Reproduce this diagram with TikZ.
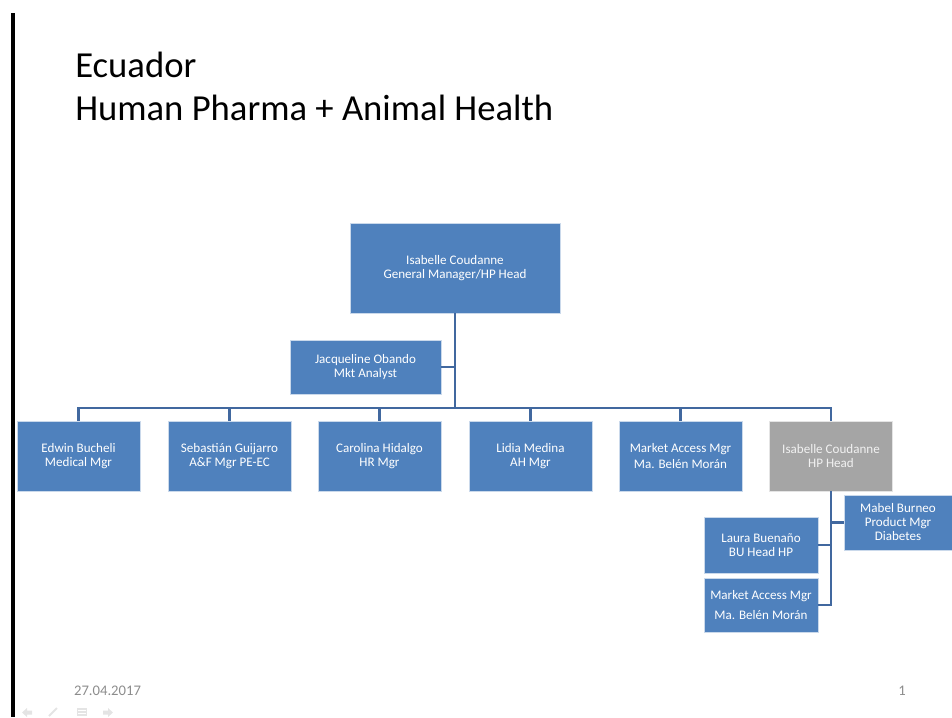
\documentclass[tikz,border=0pt]{standalone}
\usepackage{fontspec}
\setmainfont{Carlito}
\usetikzlibrary{positioning}

\definecolor{boxblue}{HTML}{4F81BD}
\definecolor{boxgray}{HTML}{A5A5A5}
\definecolor{linkblue}{HTML}{41689F}
\definecolor{footgray}{HTML}{8C8C8C}
\definecolor{navgray}{HTML}{E4E4E4}

\tikzset{
    unit/.style={fill=boxblue, draw=white!70!boxblue, line width=0.4pt, text=white,
        align=center, inner sep=1pt, font=\fontsize{9.8}{10.5}\selectfont},
    link/.style={draw=linkblue, line width=1.6pt},
}

\begin{document}
\begin{tikzpicture}[x=0.75pt,y=-0.75pt]
        \useasboundingbox (0,0) rectangle (952,717);
        \fill[black] (11,13) rectangle (14.5,717);

        % title
        \node[anchor=base west, inner sep=0pt, font=\fontsize{27.5}{32}\selectfont] (title1) at (75,78) {Ecuador};
        \node[anchor=base west, inner sep=0pt, font=\fontsize{27.5}{32}\selectfont] (title2) at (75,120) {Human Pharma + Animal Health};

        % head and assistant
        \node[unit, minimum width=157.5pt, minimum height=67.5pt] (top) at (455,268)
            {Isabelle Coudanne\\General Manager/HP Head};
        \node[unit, minimum width=113pt, minimum height=40.5pt] (jacq) at (365.5,367)
            {Jacqueline Obando\\Mkt Analyst};
        \coordinate (bus) at (455,408);

        % first row
        \foreach \x/\name/\label in {78.5/edwin/{Edwin Bucheli\\Medical Mgr},
                229.5/sebas/{Sebastián Guijarro\\A\&F Mgr PE-EC},
                379.5/carol/{Carolina Hidalgo\\HR Mgr},
                530.5/lidia/{Lidia Medina\\AH Mgr},
                680.5/access/{Market Access Mgr\\[2pt]Ma. Belén Morán}} {
            \node[unit, minimum width=92pt, minimum height=52.5pt] (\name) at (\x,456) {\label};
        }
        \node[unit, fill=boxgray, draw=white!70!boxgray, text=white!85!boxgray, minimum width=92pt, minimum height=52.5pt] (hphead) at (831,456)
            {Isabelle Coudanne\\HP Head};

        % HP team
        \node[unit, minimum width=81pt, minimum height=41pt] (mabel) at (898,522.5)
            {Mabel Burneo\\Product Mgr\\Diabetes};
        \node[unit, minimum width=85.5pt, minimum height=42pt] (laura) at (761,545)
            {Laura Buenaño\\BU Head HP};
        \node[unit, minimum width=85.5pt, minimum height=40.5pt] (access2) at (761,605)
            {Market Access Mgr\\[4pt]Ma. Belén Morán};

        % connectors
        \draw[link] (top.south) -- (bus);
        \draw[link] (jacq.east) -- (jacq.east -| top.south);
        \foreach \name in {edwin,sebas,carol,lidia,access,hphead} {
            \draw[link] (bus) -| (\name.north);
        }
        \foreach \name in {mabel,laura,access2} {
            \draw[link] (hphead.south) |- (\name);
        }

        % footer
        \node[text=footgray, font=\fontsize{11}{13}\selectfont] (date) at (107.5,691) {27.04.2017};
        \node[text=footgray, font=\fontsize{11}{13}\selectfont] (page) at (902,691) {1};

        % slide show buttons
        \fill[navgray] (22,712.5) -- (27,708) -- (27,710.5) -- (32,710.5) -- (32,714.5) -- (27,714.5) -- (27,717) -- cycle;
        \draw[navgray, line width=1.5pt] (49,716) -- (57,708);
        \fill[navgray] (77,708) rectangle (87,716);
        \foreach \y in {710.5,713.5} {
            \draw[white, line width=0.5pt] (78,\y) -- (86,\y);
        }
        \fill[navgray] (113,712.5) -- (108,708) -- (108,710.5) -- (103,710.5) -- (103,714.5) -- (108,714.5) -- (108,717) -- cycle;
\end{tikzpicture}
\end{document}
